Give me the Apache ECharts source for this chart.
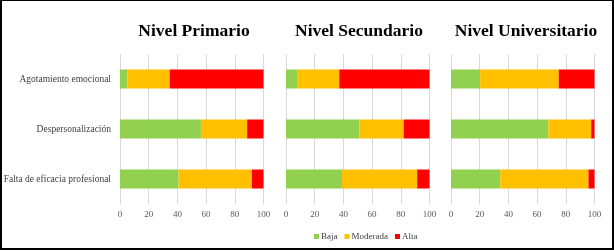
<!DOCTYPE html>
<html>
<head>
<meta charset="utf-8">
<script src="https://cdn.jsdelivr.net/npm/echarts@6/dist/echarts.min.js"></script>
<style>
  html, body { margin: 0; padding: 0; background: #fff; }
  #wrap { position: relative; width: 614px; height: 251px; }
  #main { position: absolute; left: 0; top: 0; width: 614px; height: 251px; }
  #frame { position: absolute; left: 0; top: 0; box-sizing: border-box; width: 614px; height: 250px;
           border: 2px solid #000; border-top-width: 1px; pointer-events: none; z-index: 5; }
</style>
</head>
<body>
<div id="wrap"><div id="main"></div><div id="frame"></div></div>
<script>
// niveles y dimensiones
const levels = ['Nivel Primario', 'Nivel Secundario', 'Nivel Universitario'];
const dimensions = ['Agotamiento emocional', 'Despersonalización', 'Falta de eficacia profesional'];
const xTicks = [0, 20, 40, 60, 80, 100];

// porcentajes por nivel (Agotamiento, Despersonalización, Falta de eficacia)
const bajaPrimario = [5.1, 56.4, 40.8];
const moderadaPrimario = [29.5, 32.2, 51.1];
const altaPrimario = [65.4, 11.4, 8.1];

const bajaSecundario = [7.7, 51.2, 39.0];
const moderadaSecundario = [29.4, 30.8, 52.4];
const altaSecundario = [62.9, 18.0, 8.6];

const bajaUniversitario = [20.3, 67.8, 34.3];
const moderadaUniversitario = [54.8, 29.9, 61.5];
const altaUniversitario = [24.9, 2.3, 4.2];

const levelData = [
  [bajaPrimario, moderadaPrimario, altaPrimario],
  [bajaSecundario, moderadaSecundario, altaSecundario],
  [bajaUniversitario, moderadaUniversitario, altaUniversitario]
];
const seriesNames = ['Baja', 'Moderada', 'Alta'];
const colors = ['#92D050', '#FFC000', '#FF0000'];

const serif = 'Liberation Serif';
const gridLefts = [120, 286, 451];
const titleCenters = [189, 354, 521];
const gridWidth = 143.5;

const chart = echarts.init(document.getElementById('main'), null, { renderer: 'canvas' });

const grids = [], xAxes = [], yAxes = [], titles = [], series = [];
levels.forEach((lvl, i) => {
  grids.push({ left: gridLefts[i], width: gridWidth, top: 54, height: 150, containLabel: false });
  titles.push({
    text: lvl,
    left: titleCenters[i],
    top: 17,
    textAlign: 'center',
    textStyle: { fontFamily: serif, fontWeight: 'bold', fontSize: 17.5, color: '#000' }
  });
  xAxes.push({
    type: 'value', gridIndex: i, min: 0, max: 100, interval: 20,
    axisLine: { show: false }, axisTick: { show: false },
    splitLine: { lineStyle: { color: '#d9d9d9', width: 1 } },
    axisLabel: { color: '#595959', fontSize: 9, fontFamily: serif, margin: 6 }
  });
  yAxes.push({
    type: 'category', gridIndex: i, data: dimensions, inverse: true,
    axisLine: { show: false }, axisTick: { show: false },
    axisLabel: { show: i === 0, color: '#404040', fontSize: 9.5, fontFamily: serif, margin: 9 }
  });
  levelData[i].forEach((vals, k) => {
    series.push({
      name: seriesNames[k], type: 'bar', stack: 'lvl' + i,
      xAxisIndex: i, yAxisIndex: i,
      barWidth: 19,
      itemStyle: { color: colors[k] },
      data: vals
    });
  });
});

chart.setOption({
  animation: false,
  backgroundColor: '#fff',
  title: titles,
  grid: grids,
  xAxis: xAxes,
  yAxis: yAxes,
  legend: {
    data: seriesNames,
    left: 309, top: 227,
    itemWidth: 5, itemHeight: 5, itemGap: 7,
    icon: 'rect',
    textStyle: { fontFamily: serif, fontSize: 9, color: '#404040', padding: [0, 0, 0, -3] }
  },
  series: series
});
</script>
</body>
</html>
